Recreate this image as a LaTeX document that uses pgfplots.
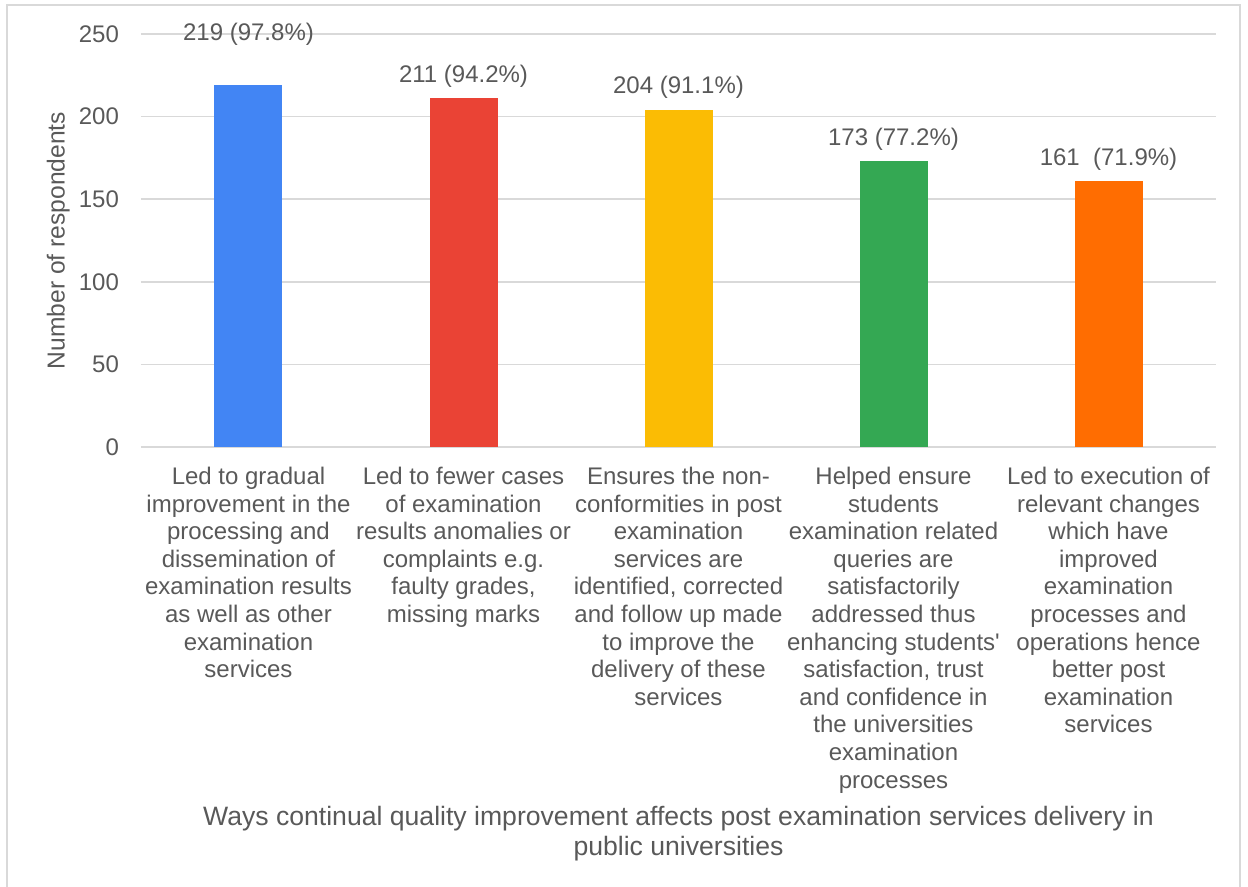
\documentclass[border=0pt]{standalone}
\usepackage{fontspec}
\setmainfont{Liberation Sans}
\usepackage{pgfplots}
\pgfplotsset{compat=1.18}
\definecolor{txt}{HTML}{595959}
\definecolor{gridc}{HTML}{D9D9D9}
\definecolor{cblue}{HTML}{4285F4}
\definecolor{cred}{HTML}{EA4335}
\definecolor{cyellow}{HTML}{FBBC04}
\definecolor{cgreen}{HTML}{34A853}
\definecolor{corange}{HTML}{FF6D01}
\begin{document}
\begin{tikzpicture}[font=\fontsize{12}{13.75}\selectfont]
\useasboundingbox (-70.5pt,223.5pt) rectangle (553.5pt,-220pt);
\draw[gridc, line width=0.75pt] (-67pt,221pt) rectangle (549.5pt,-221pt);
\begin{axis}[
  scale only axis,
  width=537.5pt, height=206.5pt,
  xmin=-0.5, xmax=4.5, ymin=0, ymax=250,
  ytick={0,50,100,150,200,250},
  xtick={0,1,2,3,4},
  xticklabels={
    {Led to gradual\\improvement in the\\processing and\\dissemination of\\examination results\\as well as other\\examination\\services},
    {Led to fewer cases\\of examination\\results anomalies or\\complaints e.g.\\faulty grades,\\missing marks},
    {Ensures the non-\\conformities in post\\examination\\services are\\identified, corrected\\and follow up made\\to improve the\\delivery of these\\services},
    {Helped ensure\\students\\examination related\\queries are\\satisfactorily\\addressed thus\\enhancing students\textquotesingle\\satisfaction, trust\\and confidence in\\the universities\\examination\\processes},
    {Led to execution of\\relevant changes\\which have\\improved\\examination\\processes and\\operations hence\\better post\\examination\\services}},
  xticklabel style={anchor=north, align=center, text=txt, yshift=-6.5pt,
    font=\fontsize{12}{13.8}\selectfont},
  yticklabel style={text=txt, xshift=-7.5pt, font=\fontsize{12}{13.75}\selectfont},
  /pgf/number format/assume math mode=true,
  major tick length=0pt,
  axis line style={draw=none},
  ymajorgrids, grid style={gridc, line width=0.75pt},
  ylabel={Number of respondents},
  ylabel style={at={(axis description cs:-0.077,0.5)}, anchor=center, text=txt,
    font=\fontsize{12.3}{14}\selectfont},
  xlabel={Ways continual quality improvement affects post examination services delivery in\\public universities},
  xlabel style={at={(axis description cs:0.5,-0.937)}, anchor=center, align=center, text=txt,
    font=\fontsize{13.3}{15}\selectfont},
  ybar, bar width=34pt, bar shift=0pt,
  nodes near coords,
  point meta=explicit symbolic,
  nodes near coords style={anchor=base, yshift=8pt, text=txt, font=\fontsize{12}{13.75}\selectfont},
]
\addplot[fill=cblue, draw=none, nodes near coords style={yshift=14.5pt}] coordinates {(0,219) [219 (97.8\%)]};
\addplot[fill=cred, draw=none] coordinates {(1,211) [211 (94.2\%)]};
\addplot[fill=cyellow, draw=none] coordinates {(2,204) [204 (91.1\%)]};
\addplot[fill=cgreen, draw=none] coordinates {(3,173) [173 (77.2\%)]};
\addplot[fill=corange, draw=none] coordinates {(4,161) [161\ \ (71.9\%)]};
\end{axis}
\end{tikzpicture}
\end{document}
